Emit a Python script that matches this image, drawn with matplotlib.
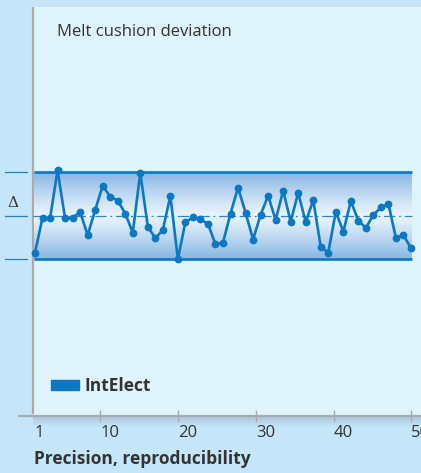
import numpy as np
import matplotlib
matplotlib.use("Agg")
import matplotlib.pyplot as plt
from matplotlib.patches import Patch

# ---- data ---------------------------------------------------------------
shot = np.arange(1, 52)
deviation = [
    -0.85, -0.05, -0.06, 1.05, -0.06, -0.05, 0.09, -0.45, 0.13, 0.69,
    0.44, 0.35, 0.05, -0.39, 0.99, -0.25, -0.52, -0.33, 0.46, -1.00,
    -0.15, -0.04, -0.08, -0.19, -0.66, -0.62, 0.05, 0.65, 0.07, -0.55,
    0.02, 0.46, -0.10, 0.58, -0.14, 0.53, -0.15, 0.36, -0.72, -0.85,
    0.09, -0.37, 0.34, -0.12, -0.28, 0.02, 0.19, 0.27, -0.52, -0.45,
    -0.75,
]
DELTA = 1.0
tick_values = [1, 10, 20, 30, 40, 50]
title = "Melt cushion deviation"
series_label = "IntElect"
xlabel = "Precision, reproducibility"

# ---- style --------------------------------------------------------------
BG = "#c4e6f8"
PANEL = "#dff3fb"
BLUE = "#0b78c1"
TXT = "#333333"
GRAY = "#a9aaad"
plt.rcParams["font.family"] = ["Open Sans", "DejaVu Sans"]

W, H = 421, 473
fig = plt.figure(figsize=(W / 100, H / 100), dpi=100, facecolor=BG)
# axes box in pixels: x 19..421, y 7..416
ax = fig.add_axes([19 / W, (H - 416) / H, (W - 19) / W, 409 / H])
ax.set_facecolor("none")

# pixel <-> data mapping of the original layout
PX_X = 7.52      # px per shot
PX_Y = 43.3      # px per Delta
ax.set_xlim(1 + (19 - 35) / PX_X, 1 + (421 - 35) / PX_X)
ax.set_ylim(-(416 - 215.7) / PX_Y, (215.7 - 7) / PX_Y)


def tick_pos(v):
    if v == 1:
        return shot[0]
    px = 100.3 + (v - 10) * 7.775
    return 1 + (px - 35) / PX_X


x_axis = 1 + (33 - 35) / PX_X
# panel + left gray axis
ax.axvspan(x_axis, ax.get_xlim()[1], ymin=0, ymax=1, color=PANEL, lw=0, zorder=0)
ax.axvline(x_axis, ymin=0.008, ymax=1, color=GRAY, lw=1.6, zorder=1)

# tolerance band with vertical gradient
x0, x1 = shot[0] - 0.13, shot[-1] + 0.13
t = np.linspace(-1, 1, 200)[:, None]
edge = np.array([0.53, 0.71, 0.89])
mid = np.array([0.91, 0.955, 0.99])
w = np.abs(t) ** 1.2
grad = (mid * (1 - w[..., None]) + edge * w[..., None])
ax.imshow(grad, extent=[x0, x1, -DELTA, DELTA], aspect="auto",
          origin="lower", zorder=2, interpolation="bilinear")
for yv in (-DELTA, DELTA):
    ax.plot([x0, x1], [yv, yv], color=BLUE, lw=1.9, zorder=3,
            solid_capstyle="butt")
ax.plot([x_axis, x1], [0, 0], color="#2f86c6", lw=0.9,
        ls=(0, (9, 3, 1.5, 3)), zorder=3)

# left Delta marks
xl0, xl1 = 1 + (5 - 35) / PX_X, 1 + (27 - 35) / PX_X
for yv in (-DELTA, 0, DELTA):
    ax.plot([xl0, xl1], [yv, yv], color="#2a7fc0", lw=0.9, clip_on=False)
ax.text(1 + (13 - 35) / PX_X, 0.3, "\u0394", ha="center", va="center",
        fontsize=11, color=TXT, family=["DejaVu Serif"])

# series
ax.plot(shot, deviation, color=BLUE, lw=1.9, marker="o", ms=4.6,
        zorder=4, clip_on=False)

ax.text(1 + (57 - 35) / PX_X, (215.7 - 32) / PX_Y, title, ha="left",
        va="center", fontsize=12, color=TXT)

ax.legend(handles=[Patch(color=BLUE, label=series_label)],
          loc="center left", bbox_to_anchor=((51 - 19) / 402, (416 - 386) / 409),
          frameon=False, handlelength=1.6, handleheight=0.55,
          handletextpad=0.35, borderpad=0, borderaxespad=0,
          prop={"weight": "bold", "size": 12.5}, labelcolor=TXT)

# bottom axis
for s in ("top", "right", "left"):
    ax.spines[s].set_visible(False)
ax.spines["bottom"].set_color(GRAY)
ax.spines["bottom"].set_linewidth(1.6)
ax.set_yticks([])
ax.set_xticks([tick_pos(v) for v in tick_values],
              [str(v) for v in tick_values])
ax.tick_params(axis="x", direction="inout", length=9, width=1, color=GRAY,
               labelsize=12, labelcolor=TXT, pad=2)
for lab in ax.get_xticklabels():
    lab.set_ha("left")
ax.xaxis.get_major_ticks()[0].tick1line.set_visible(False)

# soft shadow under the axis line
yb = ax.get_ylim()[0]
sh = np.zeros((30, 1, 4))
sh[..., :3] = [0.45, 0.55, 0.62]
sh[:, 0, 3] = np.linspace(0.35, 0, 30)
ax.imshow(sh, extent=[x_axis, ax.get_xlim()[1], yb - 11 / PX_Y, yb],
          aspect="auto", origin="upper", zorder=0.5, clip_on=False)

ax.set_xlabel(xlabel, fontsize=12.5, fontweight="bold", color=TXT,
              loc="left", labelpad=8)
ax.xaxis.set_label_coords((34 - 19) / 402, -(459 - 416) / 409)
ax.xaxis.label.set_va("center")

fig.savefig("out.png", dpi=100, facecolor=BG)
